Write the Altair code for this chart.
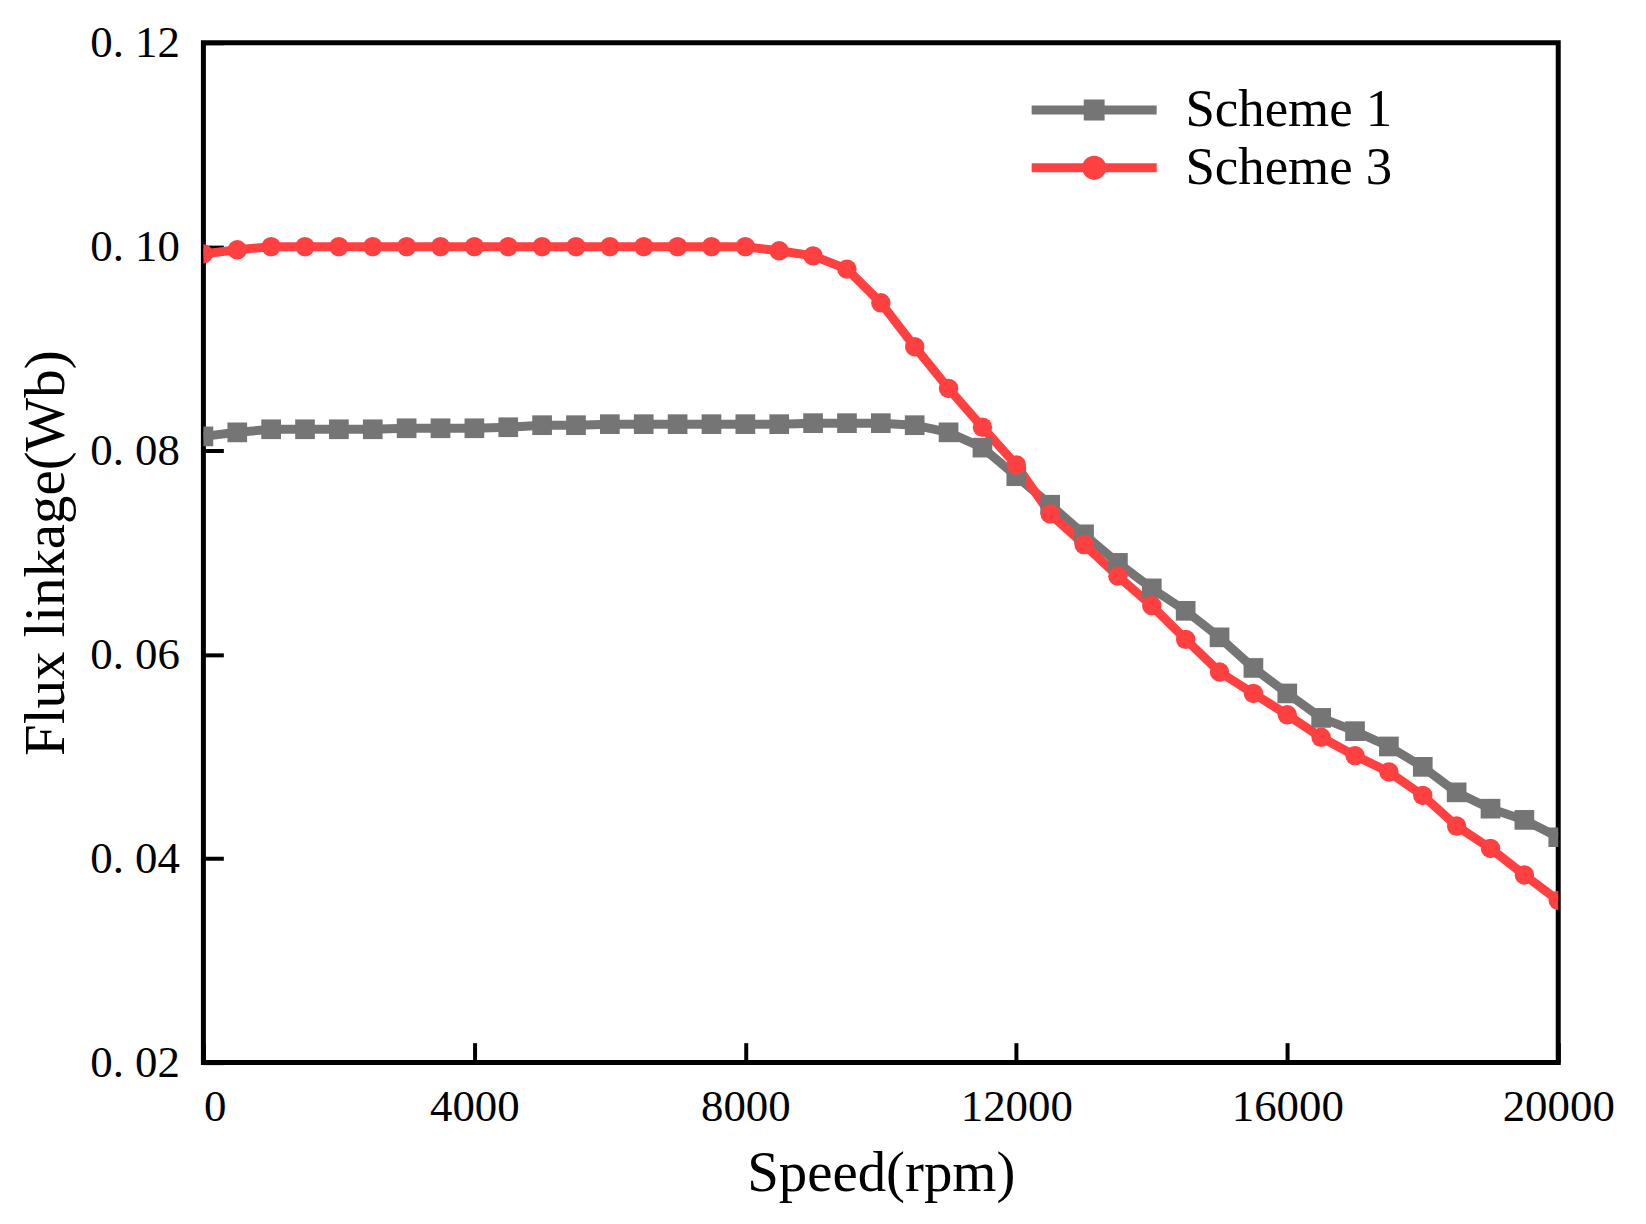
import altair as alt
import pandas as pd

speed = list(range(0, 20001, 500))

scheme1 = [0.0814, 0.0818, 0.0821, 0.0821, 0.0821, 0.0821, 0.0822, 0.0822, 0.0822, 0.0823,
           0.0825, 0.0825, 0.0826, 0.0826, 0.0826, 0.0826, 0.0826, 0.0826, 0.0827, 0.0827,
           0.0827, 0.0825, 0.0818, 0.0803, 0.0775, 0.0747, 0.0718, 0.0690, 0.0665, 0.0643,
           0.0617, 0.0587, 0.0562, 0.0538, 0.0525, 0.0510, 0.0490, 0.0465, 0.0449, 0.0438,
           0.0421]

scheme3 = [0.0993, 0.0997, 0.1000, 0.1000, 0.1000, 0.1000, 0.1000, 0.1000, 0.1000, 0.1000,
           0.1000, 0.1000, 0.1000, 0.1000, 0.1000, 0.1000, 0.1000, 0.0996, 0.0991, 0.0978,
           0.0945, 0.0902, 0.0861, 0.0823, 0.0786, 0.0738, 0.0708, 0.0677, 0.0648, 0.0615,
           0.0583, 0.0562, 0.0541, 0.0519, 0.0501, 0.0485, 0.0462, 0.0432, 0.0410, 0.0384,
           0.0359]

series_names = ["Scheme 1", "Scheme 3"]
series_colors = ["#757575", "#FF4040"]
x_ticks = [0, 4000, 8000, 12000, 16000, 20000]
y_ticks = [0.02, 0.04, 0.06, 0.08, 0.10, 0.12]

df = pd.concat([
    pd.DataFrame({"speed": speed, "flux": scheme1, "series": series_names[0]}),
    pd.DataFrame({"speed": speed, "flux": scheme3, "series": series_names[1]}),
], ignore_index=True)

FONT = "Liberation Serif"

x_enc = alt.X("speed:Q", title="Speed(rpm)",
              scale=alt.Scale(domain=[0, 20000], nice=False, zero=False),
              axis=alt.Axis(values=x_ticks, format="d", grid=False,
                            tickSize=alt.ExprRef(expr="-20"), tickWidth=4, tickColor="black",
                            domain=False, labelFont=FONT, labelFontSize=45, labelColor="black",
                            labelPadding=42, labelFlush=False,
                            labelAlign=alt.ExprRef(expr="datum.value == 0 ? 'left' : 'center'"),
                            titleFont=FONT, titleFontSize=57, titleFontWeight="normal",
                            titleColor="black", titlePadding=16))
y_enc = alt.Y("flux:Q", title="Flux linkage(Wb)",
              scale=alt.Scale(domain=[0.02, 0.12], nice=False, zero=False),
              axis=alt.Axis(values=y_ticks, grid=False,
                            labelExpr="replace(format(datum.value, '.2f'), '.', '. ')",
                            tickSize=alt.ExprRef(expr="-20"), tickWidth=4, tickColor="black",
                            domain=False, labelFont=FONT, labelFontSize=45, labelColor="black",
                            labelPadding=44,
                            titleFont=FONT, titleFontSize=57, titleFontWeight="normal",
                            titleColor="black", titlePadding=14))

color_scale = alt.Scale(domain=series_names, range=series_colors)

# legend glyphs: line with square marker / line with circle marker (all clockwise)
sq_path = "M-5.7,-0.41H5.7V0.41H-5.7Z M-0.95,-0.95H0.95V0.95H-0.95Z"
ci_path = "M-5.7,-0.41H5.7V0.41H-5.7Z M-1.1,0A1.1,1.1 0 1,1 1.1,0A1.1,1.1 0 1,1 -1.1,0Z"

leg = alt.Legend(title=None, orient="none", legendX=867, legendY=41,
                 symbolSize=484, labelFont=FONT, labelFontSize=53, labelLimit=500,
                 labelColor="black", labelOffset=65, rowPadding=4,
                 symbolStrokeWidth=0)

base = alt.Chart(df)

lines = base.mark_line(strokeWidth=9, clip=True).encode(
    x=x_enc, y=y_enc,
    color=alt.Color("series:N", scale=color_scale, legend=leg),
    detail="series:N",
)

squares = base.transform_filter(alt.datum.series == series_names[0]).mark_square(
    size=390, opacity=1, clip=True).encode(
    x="speed:Q", y="flux:Q",
    color=alt.Color("series:N", scale=color_scale, legend=leg),
)

circles = base.transform_filter(alt.datum.series == series_names[1]).mark_circle(
    size=380, opacity=1, clip=True).encode(
    x="speed:Q", y="flux:Q",
    color=alt.Color("series:N", scale=color_scale, legend=leg),
)

legend_layer = base.transform_filter("false").mark_point(filled=True, opacity=1).encode(
    x="speed:Q", y="flux:Q",
    shape=alt.Shape("series:N", scale=alt.Scale(domain=series_names, range=[sq_path, ci_path]),
                    legend=leg),
    color=alt.Color("series:N", scale=color_scale, legend=leg),
)

chart = alt.layer(lines, squares, circles, legend_layer).properties(
    width=1359, height=1023,
    autosize=alt.AutoSizeParams(type="none"),
    padding={"left": 196, "top": 33, "right": 80, "bottom": 150},
).configure(background="white").configure_view(stroke="black", strokeWidth=5)

chart.save("out.html", embed_options={"renderer": "svg", "actions": False})
